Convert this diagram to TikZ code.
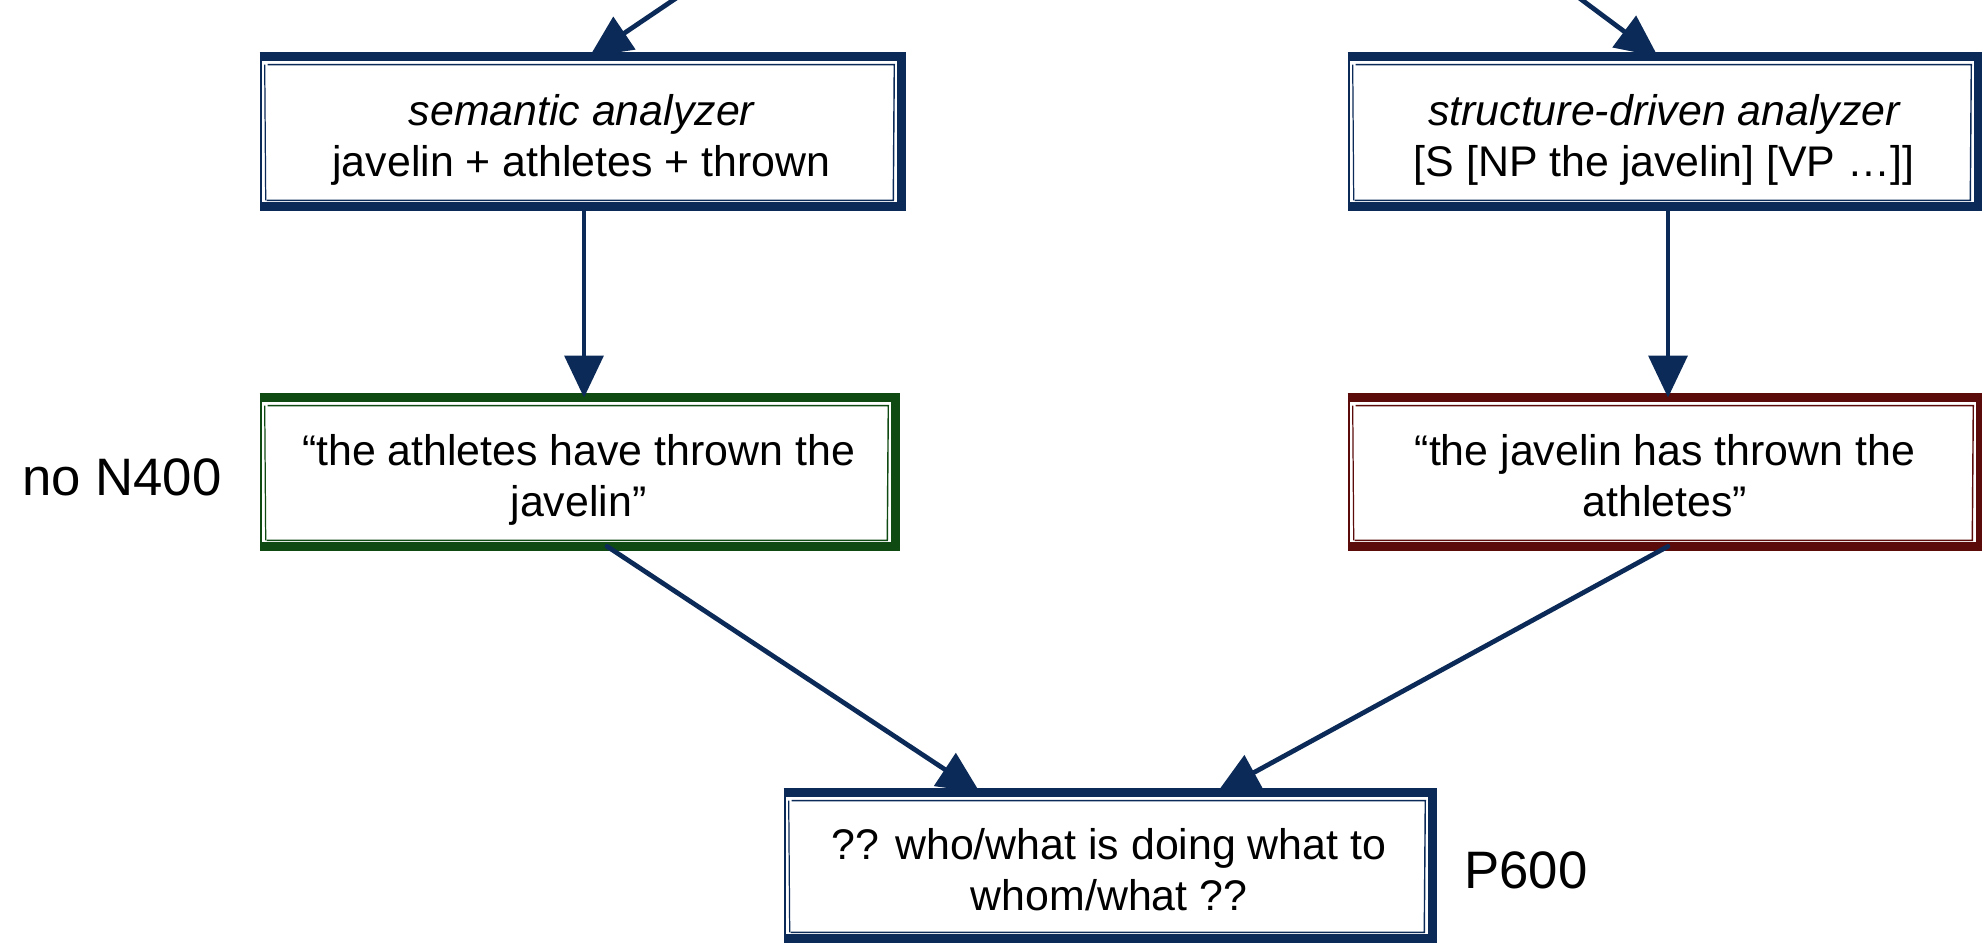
\documentclass[tikz,border=0pt]{standalone}
\usepackage{fontspec}
\setmainfont{Liberation Sans}
\usetikzlibrary{arrows.meta,calc}

\definecolor{navy}{HTML}{0B2A57}
\definecolor{leafgreen}{HTML}{0F4A12}
\definecolor{oxblood}{HTML}{5C0B0B}

\tikzset{
  box/.style={draw=none, rectangle, inner sep=0pt,
    font=\fontsize{24.4}{29}\selectfont},
  sidelabel/.style={font=\fontsize{30}{36}\selectfont},
  link/.style={navy, line width=2.7pt, line cap=round,
    -{Triangle[width=22pt,length=24pt]}},
}

% two centred lines, set a little below the middle of their box
\newcommand{\boxlines}[1]{%
  \raisebox{-0.18cm}[\height][\depth]{\begin{tabular}{@{}c@{}}#1\end{tabular}}}

% hand-drawn looking double frame around a named node
\newcommand{\roughframe}[2]{%
  \draw[#2, line width=1.3pt] ($(#1.south west)+(-1,0)$) -- ($(#1.north west)+(-1,0)$);
  \draw[#2, line width=0.7pt] ($(#1.south west)+(4,-6)$) -- ($(#1.north west)+(3,8)$);
  \draw[#2, line width=5pt, line join=miter]
    ($(#1.north west)+(-2,0)$) -- (#1.north east) -- (#1.south east) -- ($(#1.south west)+(-2,0)$);
  \draw[#2, line width=0.8pt]
    ($(#1.north west)+(6,8)$) -- ($(#1.north east)+(-7,8)$)
    -- ($(#1.south east)+(-8,-6)$) -- ($(#1.south west)+(5,-6)$);
}

\begin{document}
\begin{tikzpicture}[x=0.02cm, y=-0.02cm]
  \useasboundingbox (0,0) rectangle (1982,944);

  % analyzers
  \node[box, minimum width=12.78cm, minimum height=2.98cm] (sem) at (581.5,131.5)
    {\boxlines{\itshape semantic analyzer\\javelin + athletes + thrown}};
  \node[box, minimum width=12.56cm, minimum height=2.98cm] (syn) at (1664,131.5)
    {\boxlines{\itshape structure-driven analyzer\\{[S [NP the javelin] [VP …]]}}};

  % readings
  \node[box, minimum width=12.66cm, minimum height=2.96cm] (good) at (578.5,472)
    {\boxlines{“the athletes have thrown the\\javelin”}};
  \node[box, minimum width=12.6cm, minimum height=2.96cm] (bad) at (1665,472)
    {\boxlines{“the javelin has thrown the\\athletes”}};

  % conflict
  \node[box, minimum width=12.92cm, minimum height=2.9cm] (clash) at (1109,865.5)
    {\boxlines{?? who/what is doing what to\\whom/what ??}};

  % side labels
  \node[sidelabel] (n400) at (122,477) {no N400};
  \node[sidelabel] (p600) at (1526,870) {P600};

  \roughframe{sem}{navy}
  \roughframe{syn}{navy}
  \roughframe{good}{leafgreen}
  \roughframe{bad}{oxblood}
  \roughframe{clash}{navy}

  % incoming input
  \coordinate (inA) at (740,-45);
  \coordinate (inB) at (1535,-35);
  \draw[link] (inA) -- ([xshift=0.16cm]sem.north);
  \draw[link] (inB) -- ([xshift=-0.12cm]syn.north);

  % analyzer -> reading
  \draw[link] ([xshift=0.05cm]sem.south) -- ([xshift=0.05cm]sem.south |- good.north);
  \draw[link] ([xshift=0.08cm]syn.south) -- ([xshift=0.08cm]syn.south |- bad.north);

  % readings -> conflict
  \draw[link] ([xshift=0.57cm]good.south) -- ([xshift=-2.58cm]clash.north);
  \draw[link] ([xshift=0.06cm]bad.south) -- ([xshift=2.16cm]clash.north);
\end{tikzpicture}
\end{document}
